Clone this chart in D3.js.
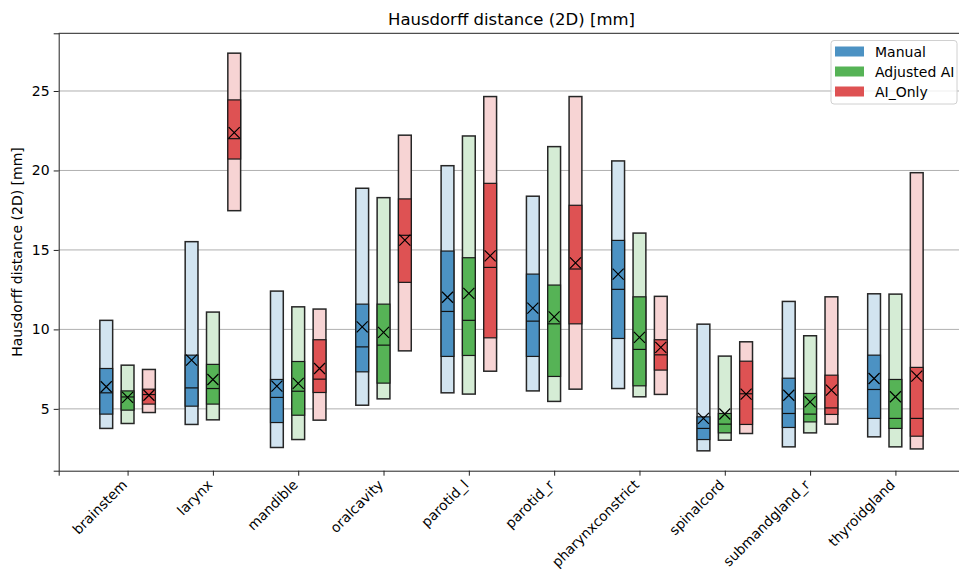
<!DOCTYPE html>
<html>
<head>
<meta charset="utf-8">
<script src="https://cdn.jsdelivr.net/npm/d3@7"></script>
<style>
  body { margin: 0; background: white; }
  text { font-family: "DejaVu Sans", sans-serif; fill: #000; }
</style>
</head>
<body>
<div id="chart"></div>
<script>
const categories = ["brainstem", "larynx", "mandible", "oralcavity", "parotid_l",
                    "parotid_r", "pharynxconstrict", "spinalcord", "submandgland_r", "thyroidgland"]

// each row: [min, q1, median, q3, max, mean]
const manual = [
  [3.77, 4.67, 6.01, 7.54, 10.57, 6.39],
  [4.02, 5.17, 6.32, 8.38, 15.52, 8.07],
  [2.57, 4.14, 5.72, 6.85, 12.41, 6.43],
  [5.23, 7.33, 8.90, 11.59, 18.88, 10.16],
  [6.01, 8.30, 11.13, 14.93, 20.30, 12.02],
  [6.13, 8.30, 10.52, 13.48, 18.38, 11.34],
  [6.28, 9.43, 12.52, 15.60, 20.60, 13.48],
  [2.36, 3.07, 3.77, 4.50, 10.33, 4.40],
  [2.61, 3.83, 4.71, 6.93, 11.76, 5.86],
  [3.24, 4.40, 6.22, 8.38, 12.24, 6.91]
]
const adjusted = [
  [4.08, 4.92, 5.75, 6.13, 7.75, 5.72],
  [4.31, 5.30, 6.28, 7.80, 11.09, 6.85],
  [3.07, 4.60, 6.11, 7.98, 11.42, 6.60],
  [5.63, 6.62, 9.01, 11.59, 18.29, 9.81],
  [5.93, 8.36, 10.57, 14.51, 22.17, 12.27],
  [5.47, 7.04, 10.35, 12.79, 21.50, 10.79],
  [5.76, 6.45, 8.74, 12.05, 16.06, 9.50],
  [3.03, 3.49, 4.04, 4.71, 8.32, 4.68],
  [3.49, 4.18, 4.67, 5.97, 9.60, 5.44],
  [2.61, 3.77, 4.40, 6.85, 12.22, 5.76]
]
const aiOnly = [
  [4.77, 5.30, 5.90, 6.24, 7.48, 5.86],
  [17.47, 20.72, 22.00, 24.44, 27.38, 22.38],
  [4.29, 6.03, 6.87, 9.35, 11.28, 7.54],
  [8.65, 12.96, 15.92, 18.21, 22.22, 15.62],
  [7.37, 9.47, 13.90, 19.19, 24.65, 14.63],
  [6.24, 10.35, 13.80, 17.81, 24.65, 14.19],
  [5.91, 7.44, 8.40, 9.35, 12.08, 8.87],
  [3.45, 4.02, 5.95, 8.00, 9.22, 5.93],
  [4.04, 4.65, 5.06, 7.12, 12.05, 6.18],
  [2.48, 3.28, 4.40, 7.61, 19.86, 7.06]
]

const methods = ["Manual", "Adjusted AI", "AI_Only"]
const yTicks = [5, 10, 15, 20, 25]

const series = [
  {name: methods[0], rows: manual, dark: "#4c92c3", light: "#d2e4f0", offset: -0.25},
  {name: methods[1], rows: adjusted, dark: "#56b356", light: "#d5ecd5", offset: 0},
  {name: methods[2], rows: aiOnly, dark: "#de5253", light: "#f7d4d4", offset: 0.25}
]

const W = 959, H = 570
const plotLeft = 58.7, plotRight = 964.3, plotTop = 33.3, plotBottom = 470.7
const boxW = 0.15

const svg = d3.select("#chart").append("svg")
  .attr("width", W)
  .attr("height", H)

const x = d3.scaleLinear().domain([-0.8075, 9.8075]).range([plotLeft, plotRight])
const y = d3.scaleLinear().domain([1.11, 28.63]).range([plotBottom, plotTop])

// grid
svg.append("g")
  .selectAll("line")
  .data(yTicks)
  .enter()
  .append("line")
  .attr("x1", plotLeft).attr("x2", plotRight)
  .attr("y1", d => y(d)).attr("y2", d => y(d))
  .attr("stroke", "#b0b0b0")
  .attr("stroke-width", 1)

const pw = x(boxW) - x(0)

series.forEach(s => {
  const groups = svg.append("g")
    .selectAll("g")
    .data(s.rows)
    .enter()
    .append("g")

  // whole range
  groups.append("rect")
    .attr("x", (d, i) => x(i + s.offset) - pw / 2)
    .attr("width", pw)
    .attr("y", d => y(d[4]))
    .attr("height", d => y(d[0]) - y(d[4]))
    .attr("fill", s.light)
    .attr("stroke", "#262626")
    .attr("stroke-width", 1.5)

  // interquartile box
  groups.append("rect")
    .attr("x", (d, i) => x(i + s.offset) - pw / 2)
    .attr("width", pw)
    .attr("y", d => y(d[3]))
    .attr("height", d => y(d[1]) - y(d[3]))
    .attr("fill", s.dark)
    .attr("stroke", "#1a1a1a")
    .attr("stroke-width", 1.2)

  // median
  groups.append("line")
    .attr("x1", (d, i) => x(i + s.offset) - pw / 2)
    .attr("x2", (d, i) => x(i + s.offset) + pw / 2)
    .attr("y1", d => y(d[2]))
    .attr("y2", d => y(d[2]))
    .attr("stroke", "#111")
    .attr("stroke-width", 1.2)

  // mean marker
  const m = 5.5
  groups.append("path")
    .attr("d", (d, i) => {
      const cx = x(i + s.offset), cy = y(d[5])
      return `M${cx - m},${cy - m}L${cx + m},${cy + m}M${cx - m},${cy + m}L${cx + m},${cy - m}`
    })
    .attr("stroke", "#000")
    .attr("stroke-width", 1.2)
    .attr("fill", "none")
})

// axes
const xAxis = svg.append("g")
  .attr("transform", `translate(0,${plotBottom})`)
  .call(d3.axisBottom(x)
    .tickValues(d3.range(categories.length))
    .tickFormat(i => categories[i])
    .tickSizeOuter(0)
    .tickSize(5))
xAxis.select(".domain").attr("stroke", "#222").attr("stroke-width", 1)
xAxis.selectAll("text")
  .attr("font-size", 13.8)
  .attr("text-anchor", "end")
  .attr("dy", 0)
  .attr("y", 0)
  .attr("transform", "translate(0,15) rotate(-45)")

const yAxis = svg.append("g")
  .attr("transform", `translate(${plotLeft},0)`)
  .call(d3.axisLeft(y).tickValues(yTicks).tickSizeOuter(0).tickSize(5))
yAxis.select(".domain").attr("stroke", "#222").attr("stroke-width", 1)
yAxis.selectAll("text").attr("font-size", 14).attr("x", -9)

svg.selectAll(".tick line").attr("stroke", "#222")

// top and right spines
svg.append("line")
  .attr("x1", plotLeft).attr("x2", plotRight)
  .attr("y1", plotTop).attr("y2", plotTop)
  .attr("stroke", "#222")
svg.append("line")
  .attr("x1", plotRight).attr("x2", plotRight)
  .attr("y1", plotTop).attr("y2", plotBottom)
  .attr("stroke", "#222")

// title and label
svg.append("text")
  .attr("x", (plotLeft + plotRight) / 2)
  .attr("y", 25)
  .attr("text-anchor", "middle")
  .attr("font-size", 16.5)
  .text("Hausdorff distance (2D) [mm]")

svg.append("text")
  .attr("transform", `translate(22,${(plotTop + plotBottom) / 2}) rotate(-90)`)
  .attr("text-anchor", "middle")
  .attr("font-size", 14)
  .text("Hausdorff distance (2D) [mm]")

// legend
const legend = svg.append("g").attr("transform", "translate(831,40.5)")
legend.append("rect")
  .attr("width", 126)
  .attr("height", 63.5)
  .attr("rx", 3)
  .attr("fill", "white")
  .attr("fill-opacity", 0.8)
  .attr("stroke", "#d0d0d0")

const item = legend.selectAll("g")
  .data(series)
  .enter()
  .append("g")
  .attr("transform", (d, i) => `translate(4,${6 + i * 20})`)
item.append("rect")
  .attr("width", 29)
  .attr("height", 10)
  .attr("fill", d => d.dark)
item.append("text")
  .attr("x", 40)
  .attr("y", 10)
  .attr("font-size", 14)
  .text(d => d.name)
</script>
</body>
</html>
